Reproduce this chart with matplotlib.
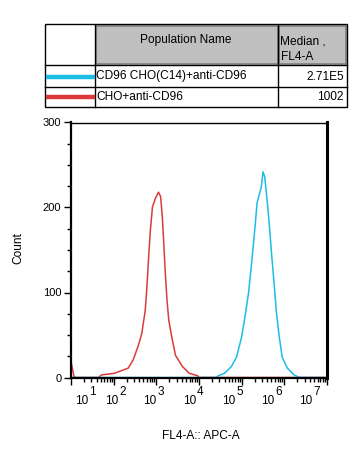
import matplotlib
matplotlib.use("Agg")
import matplotlib.pyplot as plt
from matplotlib.patches import Rectangle
from matplotlib.lines import Line2D
import numpy as np

plt.rcParams['font.family'] = ['Liberation Sans', 'DejaVu Sans']

## Histogram traces: x in log10(FL4-A), y = count
red_log = [1.00, 1.07, 1.12, 1.65, 1.71, 2.02, 2.34, 2.46, 2.58, 2.66, 2.74, 2.78,
           2.82, 2.86, 2.91, 2.98, 3.05, 3.10, 3.14, 3.17, 3.21, 3.25, 3.29, 3.36,
           3.45, 3.61, 3.77, 3.97, 4.00, 7.00]
red_cnt = [19, 1, 0, 0, 3, 5, 11, 21, 38, 52, 79, 107,
           142, 173, 201, 211, 218, 213, 189, 162, 123, 91, 68, 48,
           26, 13, 5, 2, 0, 0]

blue_log = [1.00, 4.40, 4.45, 4.60, 4.76, 4.88, 5.00, 5.08, 5.16, 5.24, 5.32, 5.36,
            5.40, 5.46, 5.50, 5.54, 5.58, 5.64, 5.70, 5.76, 5.81, 5.88, 5.95, 6.07,
            6.23, 6.31, 6.36, 7.00]
blue_cnt = [0, 0, 2, 5, 13, 24, 48, 72, 99, 138, 181, 205,
            213, 224, 242, 236, 217, 185, 146, 111, 79, 48, 24, 11,
            3, 1, 0, 0]

## Table content
pop_names = ['CD96 CHO(C14)+anti-CD96', 'CHO+anti-CD96']
medians = ['2.71E5', '1002']
decades = [1, 2, 3, 4, 5, 6, 7]
yticks = [0, 100, 200, 300]

BLUE = '#1cbde6'
RED = '#dc3a3a'
W, H = 359, 457


def fx(x):
    return x / W


def fy(y):
    return 1 - y / H


fig = plt.figure(figsize=(W / 100, H / 100), dpi=100)

### Histogram axes
ax = fig.add_axes([fx(71), fy(377.5), fx(327) - fx(71), fy(122.5) - fy(377.5)])
ax.plot(10 ** np.array(red_log), red_cnt, '-', lw=1.1, color=RED)
ax.plot(10 ** np.array(blue_log), blue_cnt, '-', lw=1.1, color=BLUE)
ax.set_xscale('log')
ax.set_xlim(10, 1e7)
ax.set_ylim(0, 300)
ax.set_yticks(yticks)
ax.set_yticks(np.arange(0, 301, 25), minor=True)
ax.set_xticks([10.0 ** d for d in decades])
ax.xaxis.set_minor_locator(matplotlib.ticker.LogLocator(base=10, subs=range(2, 10)))
ax.xaxis.set_minor_formatter(matplotlib.ticker.NullFormatter())
ax.set_xticklabels([])
ax.tick_params(axis='both', which='major', length=5, width=1, direction='out',
               labelsize=8, pad=2)
ax.tick_params(axis='both', which='minor', length=3, width=1, direction='out')
ax.spines['left'].set_linewidth(1.6)
ax.spines['bottom'].set_linewidth(1.6)
ax.spines['right'].set_linewidth(2.2)
ax.spines['top'].set_linewidth(1.0)

# decade labels sit left of their ticks, as in the FlowJo export
label_px = [81.5, 112, 150, 189.5, 228.5, 268, 306]
for d, xp in zip(decades, label_px):
    fig.text(fx(xp), fy(401), '10', ha='center', va='center', fontsize=8.5)
    fig.text(fx(xp + 7.5), fy(392), str(d), ha='left', va='center', fontsize=8.5)

fig.text(fx(201), fy(436), 'FL4-A:: APC-A', ha='center', va='center', fontsize=8.6)
fig.text(fx(18), fy(248), 'Count', ha='center', va='center', fontsize=8.6, rotation=90)

### Legend table on top
tr = fig.transFigure


def box(x0, y0, x1, y1, **kw):
    fig.patches.append(Rectangle((fx(x0), fy(y1)), fx(x1) - fx(x0), fy(y0) - fy(y1),
                                 transform=tr, **kw))


def hline(x0, x1, y, **kw):
    fig.lines.append(Line2D([fx(x0), fx(x1)], [fy(y), fy(y)], transform=tr, **kw))


def vline(x, y0, y1, **kw):
    fig.lines.append(Line2D([fx(x), fx(x)], [fy(y0), fy(y1)], transform=tr, **kw))


# gray header cells with bevel
box(95.5, 25.5, 277.5, 63.5, facecolor='#c0c0c0', edgecolor='#808080', lw=1.2)
box(279, 25.5, 346, 63.5, facecolor='#c0c0c0', edgecolor='#808080', lw=1.2)
box(45, 24.5, 346.5, 107, facecolor='none', edgecolor='black', lw=1.0)
hline(45, 346.5, 64.5, color='black', lw=1.0)
hline(45, 346.5, 86.5, color='black', lw=1.0)
vline(94.5, 24.5, 107, color='black', lw=1.0)
vline(278.3, 24.5, 107, color='black', lw=1.0)

fig.text(fx(186), fy(39.5), 'Population Name', ha='center', va='center', fontsize=8.6)
fig.text(fx(280.5), fy(41), 'Median ,', ha='left', va='center', fontsize=8.6)
fig.text(fx(280.5), fy(57), 'FL4-A', ha='left', va='center', fontsize=8.6)

row_y = [76.5, 97]
for name, med, c, yy in zip(pop_names, medians, [BLUE, RED], row_y):
    hline(45.5, 94.5, yy, color=c, lw=3.2, solid_capstyle='butt')
    fig.text(fx(96.5), fy(yy), name, ha='left', va='center', fontsize=8.6)
    fig.text(fx(344), fy(yy), med, ha='right', va='center', fontsize=8.6)

plt.savefig('out.png', dpi=100)
